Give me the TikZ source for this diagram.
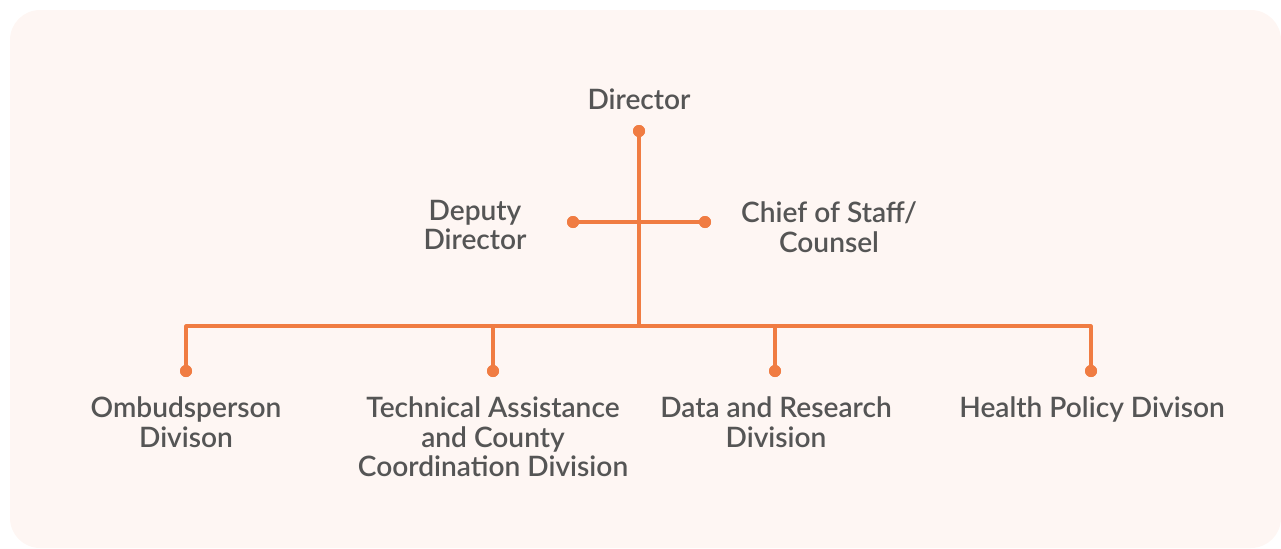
\documentclass[tikz,border=0pt]{standalone}
\usepackage{fontspec}
\setmainfont{Lato}[BoldFont={* Semibold}]
\usetikzlibrary{positioning}
\definecolor{bgpink}{HTML}{FEF6F3}
\definecolor{linkorange}{HTML}{F07C42}
\definecolor{txtgray}{HTML}{555555}
\begin{document}
\begin{tikzpicture}[x=0.02cm, y=-0.02cm, line join=round, line cap=round,
	font=\fontsize{16}{17}\selectfont\bfseries, text=txtgray]
	\tikzset{
		dot/.style={circle, fill=linkorange, inner sep=0pt, minimum size=0.24cm},
		link/.style={draw=linkorange, line width=1.8pt},
		unit/.style={align=center, inner sep=0pt}
	}
	%Khung nền
	\useasboundingbox (0,0) rectangle (1281,548);
	\fill[bgpink, rounded corners=0.6cm] (10,10) rectangle (1281,548);
	%Giám đốc
	\node[unit] (dir) at (639,99) {Director};
	\node[dot] (dDir) at (639,131) {};
	\node[dot] (dDep) at (573,222) {};
	\node[dot] (dCos) at (705,222) {};
	\node[unit] (dep) at (475,225) {Deputy\\Director};
	\node[unit] (cos) at (829,227) {Chief of Staff/\\Counsel};
	\coordinate (cross) at (639,222);
	\coordinate (bus) at (639,326);
	%Các phòng ban
	\node[dot] (dOmb) at (186,371) {};
	\node[dot] (dTec) at (493,371) {};
	\node[dot] (dDat) at (775,371) {};
	\node[dot] (dHea) at (1091,371) {};
	\node[unit, anchor=north] (omb) at (186,396) {Ombudsperson\\Divison};
	\node[unit, anchor=north] (tec) at (493,396) {Technical Assistance\\and County\\Coordination Division};
	\node[unit, anchor=north] (dat) at (776,396) {Data and Research\\Division};
	\node[unit, anchor=north] (hea) at (1092,396) {Health Policy Divison};
	%Đường nối
	\draw[link] (dDir.center) -- (bus);
	\draw[link] (dDep.center) -- (dCos.center);
	\draw[link] (dOmb.center) |- (bus) -| (dHea.center);
	\draw[link] (dTec.center) -- (dTec.center |- bus);
	\draw[link] (dDat.center) -- (dDat.center |- bus);
	%Vẽ lại các chấm
	\foreach \p in {dDir,dDep,dCos,dOmb,dTec,dDat,dHea}
		\fill[linkorange] (\p) circle (0.12cm);
\end{tikzpicture}
\end{document}
